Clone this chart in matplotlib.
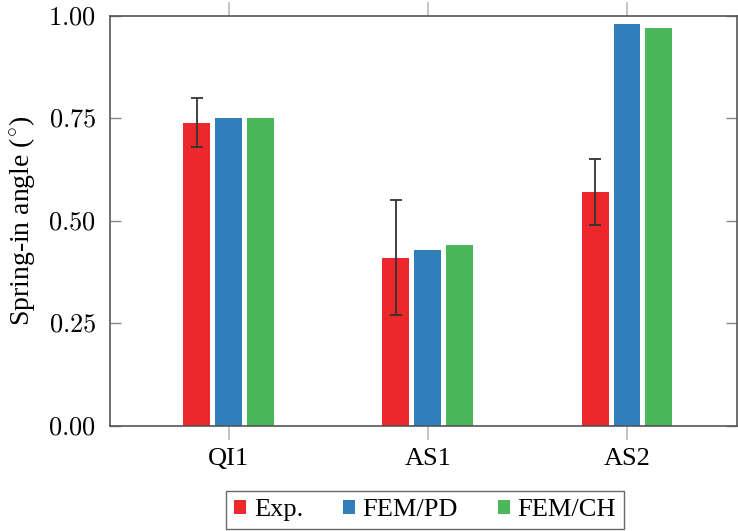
import numpy as np
import matplotlib
matplotlib.use('Agg')
import matplotlib.pyplot as plt

plt.rcParams['font.family'] = ['Liberation Serif', 'DejaVu Serif']
plt.rcParams['mathtext.fontset'] = 'cm'

# data
categories = ['QI1', 'AS1', 'AS2']
exp_vals = [0.74, 0.41, 0.57]
exp_err = [0.06, 0.14, 0.08]
fem_pd = [0.75, 0.43, 0.98]
fem_ch = [0.75, 0.44, 0.97]

series = [('Exp.', exp_vals, '#ED282D'),
          ('FEM/PD', fem_pd, '#317FBA'),
          ('FEM/CH', fem_ch, '#4AB85A')]

fig = plt.figure(figsize=(7.38, 5.31), dpi=100)
ax = fig.add_axes([0.149, 0.198, 0.849, 0.772])

x = np.arange(len(categories))
width = 0.135
step = 0.16
for i, (name, vals, color) in enumerate(series):
    pos = x + (i - 1) * step
    ax.bar(pos, vals, width, color=color, label=name, zorder=2)
    if name == 'Exp.':
        ax.errorbar(pos, vals, yerr=exp_err, fmt='none', ecolor='#333333',
                    elinewidth=1.3, capsize=4, capthick=1.3, zorder=3)

ax.set_xlim(-0.595, 2.55)
ax.set_ylim(0, 1)
ax.set_xticks(x)
ax.set_xticklabels(categories, fontsize=19)
yt = [0, 0.25, 0.5, 0.75, 1.0]
ax.set_yticks(yt)
ax.set_yticklabels(['$%.2f$' % v for v in yt], fontsize=19)
ax.tick_params(axis='x', direction='out', length=10, color='#bbbbbb', width=1.2,
               top=True, pad=6)
ax.tick_params(axis='y', direction='in', length=8, color='#888888', width=1,
               right=True, pad=10)
for s in ax.spines.values():
    s.set_color('#555555')
    s.set_linewidth(1.2)

ax.set_ylabel('Spring-in angle ($^{\\circ}$)', fontsize=20, labelpad=8)

leg = ax.legend(loc='upper center', bbox_to_anchor=(0.503, -0.16), ncol=3,
                fontsize=19, frameon=True, fancybox=False, edgecolor='#444444',
                handlelength=0.45, handleheight=0.45, handletextpad=0.3,
                columnspacing=1.5, borderpad=0.3, borderaxespad=0)
leg.get_frame().set_linewidth(1.0)

fig.savefig('out.png', dpi=100)
